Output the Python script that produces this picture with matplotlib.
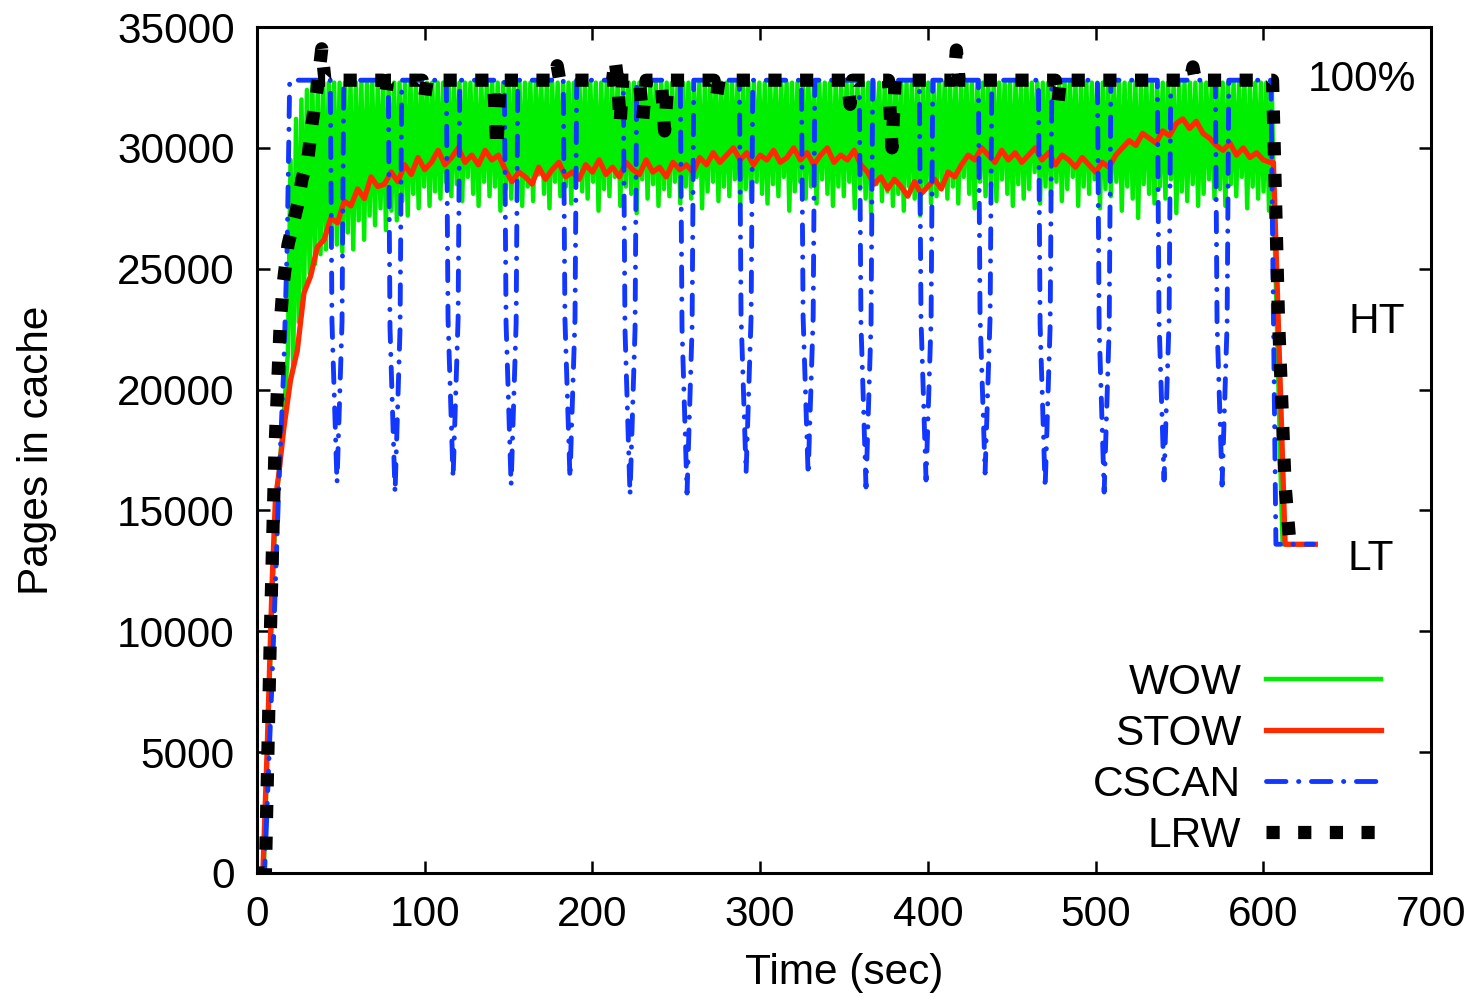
import numpy as np
import matplotlib
matplotlib.use("Agg")
import matplotlib.pyplot as plt

plt.rcParams['font.family'] = ['Liberation Sans', 'DejaVu Sans']

# ---- data (pages in cache vs. time in seconds) ----

# WOW: ramp, then fast oscillation between the cache top and a varying dip
wow_ramp_t = [0, 4, 8, 11, 13, 16, 18.4]
wow_ramp_v = [0, 0, 9000, 15000, 16500, 19000, 21500]
WOW_TOP = 32700
wow_first_peaks = [29500, 31200, 32000, 32400]
WOW_PERIOD = 3.25
WOW_START = 20
# dips per cycle, in hundreds of pages
wow_dips = [
    210, 228, 240, 248, 252, 256, 258, 262, 260, 257,
    265, 258, 270, 262, 272, 268, 275, 266, 274, 270,
    278, 272, 281, 275, 284, 276, 282, 279, 286, 280,
    285, 278, 288, 281, 276, 286, 280, 284, 274, 283,
    279, 287, 276, 284, 278, 289, 281, 275, 286, 280,
    284, 277, 288, 282, 279, 286, 274, 283, 280, 288,
    276, 284, 281, 273, 287, 279, 285, 276, 283, 280,
    286, 277, 284, 279, 288, 275, 282, 286, 278, 284,
    280, 287, 276, 283, 279, 286, 281, 277, 285, 280,
    288, 274, 282, 286, 279, 284, 277, 287, 281, 276,
    284, 280, 286, 275, 283, 279, 273, 285, 278, 282,
    276, 281, 274, 284, 279, 272, 283, 277, 280, 286,
    279, 284, 277, 288, 281, 275, 286, 280, 284, 278,
    287, 281, 276, 285, 279, 283, 290, 277, 284, 280,
    286, 278, 283, 288, 276, 284, 281, 287, 275, 283,
    280, 286, 274, 284, 279, 271, 285, 281, 277, 284,
    279, 287, 273, 282, 278, 285, 276, 281, 287, 279,
    283, 276, 285, 280, 288, 275, 284, 279, 282, 274,
]
wow_end_t = [606.5, 610.5, 611.5, 629]
wow_end_v = [27000, 16000, 13600, 13600]

# STOW: ramp then a noisy level, sampled every 4 s from t=16 (hundreds)
stow_ramp_t = [0, 3.5, 6, 9, 11, 13]
stow_ramp_v = [0, 0, 5000, 12000, 15500, 16500]
STOW_START = 16
STOW_STEP = 4
stow_mid = [
    184, 204, 216, 240, 247, 259, 262, 271, 269, 278,
    276, 283, 279, 288, 284, 285, 290, 286, 293, 289,
    296, 291, 294, 299, 293, 296, 300, 294, 297, 293,
    299, 295, 297, 291, 286, 290, 288, 285, 292, 287,
    291, 294, 288, 290, 287, 293, 290, 295, 289, 292,
    288, 294, 291, 289, 295, 290, 292, 288, 294, 291,
    293, 290, 296, 293, 298, 294, 297, 300, 295, 298,
    293, 297, 295, 299, 294, 296, 300, 295, 298, 293,
    297, 300, 294, 297, 295, 299, 293, 290, 285, 288,
    283, 287, 284, 280, 286, 281, 284, 287, 283, 290,
    288, 293, 297, 295, 300, 297, 294, 299, 295, 298,
    294, 297, 300, 295, 298, 293, 297, 295, 292, 296,
    293, 290, 294, 292, 297, 300, 303, 301, 306, 304,
    302, 307, 305, 310, 312, 308, 311, 306, 304, 301,
    299, 302, 297, 300, 296, 298, 295, 294,
]
stow_end_t = [606, 613, 631]
stow_end_v = [29400, 13600, 13600]

# CSCAN: full cache with periodic scan dips
cscan_ramp_t = [0, 4.5, 9, 13, 16, 18, 19.5]
cscan_ramp_v = [0, 0, 8000, 16000, 21000, 26000, 32800]
CSCAN_TOP = 32800
cscan_dip_t = [47.7, 82.3, 116.9, 151.5, 186.6, 222.4, 256.4, 291.6,
               328.6, 363.1, 398.9, 434.1, 469.9, 505.1, 540.8, 575.4]
cscan_dip_v = [16140, 15720, 16340, 16050, 16340, 15640, 15720, 16550,
               16470, 15970, 16260, 16550, 15930, 15760, 16260, 16050]
# shape of one dip: time offsets and fraction of the dip depth
DIP_DT = [-4.0, -3.0, 0.0, 3.0, 4.0]
DIP_FRAC = [0.0, 0.6, 1.0, 0.6, 0.0]
cscan_end_t = [604.5, 607.5, 630]
cscan_end_v = [32800, 13600, 13600]

# LRW
lrw_t = [0, 3.5, 5, 8, 10.7, 13.7, 15.5, 18.5, 21, 24.4, 26.8, 30.4, 32.8,
         35.8, 38.6, 40.5, 75, 76.5, 78, 98.5, 100, 101.5, 141, 143, 145,
         177.5, 179, 180.5, 212, 213.5, 215, 216.5, 218, 228, 230, 232,
         241, 243, 245, 272.5, 274, 275.5, 352, 353.6, 355, 376.5, 378.6,
         380.5, 415.5, 417, 418.5, 476, 477.6, 479, 556.5, 558, 559.5,
         605.5, 609, 613, 616, 618.5]
lrw_v = [0, 0, 0, 10000, 17500, 22500, 24300, 26000, 26700, 27700, 28700,
         29600, 31000, 32400, 34100, 32800, 32800, 32100, 32800, 32800,
         32100, 32800, 32800, 30000, 32800, 32800, 33400, 32800, 32800,
         33650, 32800, 31000, 32800, 32800, 31200, 32800, 32800, 30700,
         32800, 32800, 32100, 32800, 32800, 31800, 32800, 32800, 30000,
         32800, 32800, 34050, 32800, 32800, 31900, 32800, 32800, 33350,
         32800, 32800, 23000, 16000, 13500, 13500]

# ---- assemble the oscillating / dipping traces from the read values ----
n_cyc = len(wow_dips)
peak_t = WOW_START + WOW_PERIOD * np.arange(n_cyc + 1)
peak_v = np.full(n_cyc + 1, WOW_TOP, dtype=float)
peak_v[:len(wow_first_peaks)] = wow_first_peaks
dip_t = peak_t[:-1] + WOW_PERIOD / 2
osc_t = np.empty(2 * n_cyc + 1)
osc_v = np.empty(2 * n_cyc + 1)
osc_t[0::2], osc_v[0::2] = peak_t, peak_v
osc_t[1::2], osc_v[1::2] = dip_t, np.array(wow_dips) * 100
wow_t = np.concatenate([wow_ramp_t, osc_t, wow_end_t])
wow_v = np.concatenate([wow_ramp_v, osc_v, wow_end_v])

stow_mid_t = STOW_START + STOW_STEP * np.arange(len(stow_mid))
stow_t = np.concatenate([stow_ramp_t, stow_mid_t, stow_end_t])
stow_v = np.concatenate([stow_ramp_v, np.array(stow_mid) * 100, stow_end_v])

cs_t, cs_v = list(cscan_ramp_t), list(cscan_ramp_v)
for tc, vc in zip(cscan_dip_t, cscan_dip_v):
    for dt, fr in zip(DIP_DT, DIP_FRAC):
        cs_t.append(tc + dt)
        cs_v.append(CSCAN_TOP - fr * (CSCAN_TOP - vc))
cs_t += cscan_end_t
cs_v += cscan_end_v

# ---- plot ----
FS = 30.5
fig = plt.figure(figsize=(14.77, 9.97), dpi=100)
ax = fig.add_axes([0.174, 0.1244, 0.7949, 0.8485])

ax.plot(wow_t, wow_v, color='#00ee00', lw=3.2, label='WOW')
ax.plot(stow_t, stow_v, color='#ff2a00', lw=3.8, label='STOW')
ax.plot(cs_t, cs_v, color='#1238ff', lw=3.5, label='CSCAN',
        linestyle=(0, (4, 2.6, 0.05, 2.6)), dash_capstyle='round')
ax.plot(lrw_t, lrw_v, color='black', lw=9.5, label='LRW',
        linestyle=(0, (1, 1.4)), dash_capstyle='butt')

ax.set_xlim(0, 700)
ax.set_ylim(0, 35000)
ax.set_xticks(range(0, 701, 100))
ax.set_yticks(range(0, 35001, 5000))
ax.tick_params(direction='in', length=9, width=1.8, top=True, right=True,
               labelsize=FS, pad=16)
for s in ax.spines.values():
    s.set_linewidth(2.2)

ax.set_xlabel('Time (sec)', fontsize=FS)
ax.xaxis.set_label_coords(0.5, -0.095)
ax.set_ylabel('Pages in cache', fontsize=FS)
ax.yaxis.set_label_coords(-0.17, 0.5)

ax.text(626.5, 32800, '100%', fontsize=FS, va='center', ha='left')
ax.text(650.5, 22800, 'HT', fontsize=FS, va='center', ha='left')
ax.text(650, 13000, 'LT', fontsize=FS, va='center', ha='left')

ax.legend(loc='lower right', bbox_to_anchor=(0.957, 0.02), frameon=False,
          markerfirst=False, fontsize=FS, handlelength=2.7,
          handletextpad=0.59, labelspacing=0.26, borderpad=0,
          borderaxespad=0)

fig.savefig('out.png', dpi=100)
